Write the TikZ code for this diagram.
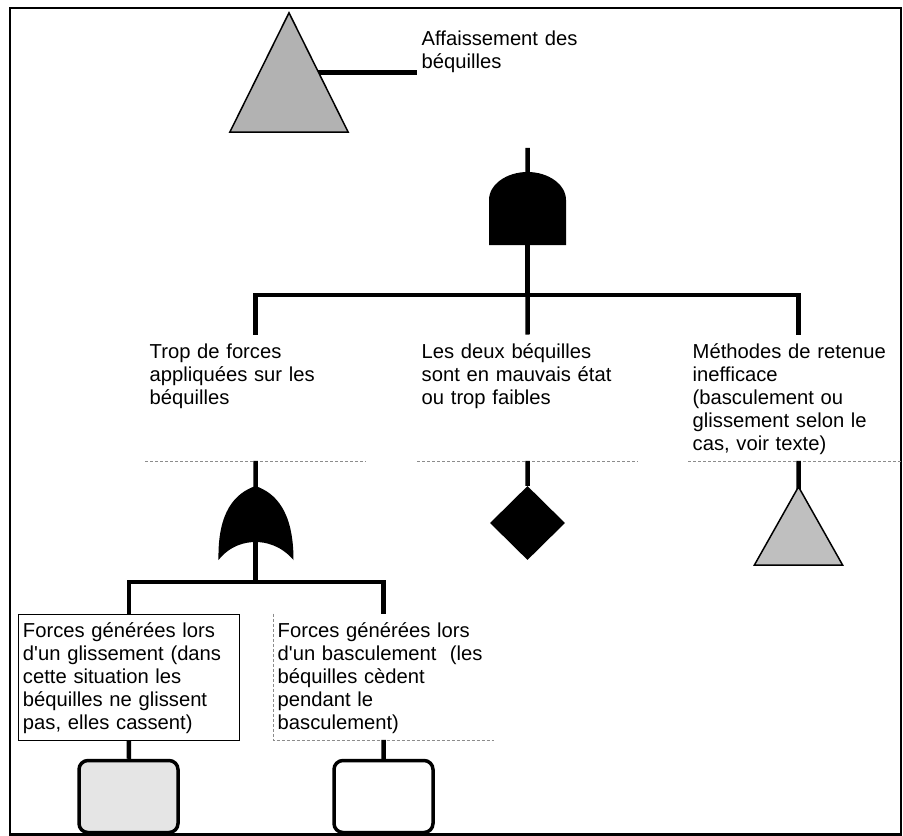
\documentclass[tikz,border=0pt]{standalone}
\usepackage{fontspec}
\setmainfont{Liberation Sans}
\usetikzlibrary{shapes.geometric}

\tikzset{
	wire/.style={line width=4.5pt},
	evtext/.style={anchor=north west, inner xsep=4.5pt, inner ysep=8.5pt, text width=212pt,
		text height=15pt, text depth=94pt, align=left, font=\fontsize{20.2}{23}\selectfont},
	gatebox/.style={inner sep=0pt, minimum width=#1},
	boxedge/.style={black!45, line width=0.8pt, densely dashed},
	basic/.style={draw, line width=3.5pt, rounded corners=9pt, minimum width=99pt, minimum height=72pt},
	transfer/.style={fill=gray!60, draw=black, line width=1.5pt},
}

\begin{document}
\begin{tikzpicture}[x=1pt,y=-1pt]
			\useasboundingbox (0,0) rectangle (903,836);
			\draw[line width=2.5pt] (10,8) rectangle (901,834.5);

			% event texts
			\node[evtext] (afs) at (417,21.5) {Affaissement des\\béquilles};
			\node[evtext] (trop) at (145,334.5) {Trop de forces\\appliquées sur les\\béquilles};
			\node[evtext] (deux) at (417,334.5) {Les deux béquilles\\sont en mauvais état\\ou trop faibles};
			\node[evtext] (meth) at (688,334.5) {Méthodes de retenue\\inefficace\\(basculement ou\\glissement selon le\\cas, voir texte)};
			\node[evtext, draw, line width=1pt] (glis) at (18,613.5) {Forces générées lors\\d\textquotesingle un glissement (dans\\cette situation les\\béquilles ne glissent\\pas, elles cassent)};
			\node[evtext] (basc) at (273,613.5) {Forces générées lors\\d\textquotesingle un basculement~ (les\\béquilles cèdent\\pendant le\\basculement)};

			% text box edges
			\draw[boxedge] (trop.south west) -- (trop.south east);
			\draw[boxedge] (deux.south west) -- (deux.south east);
			\draw[boxedge] (meth.south west) -- (meth.south east);
			\draw[boxedge] (basc.north west) -- (basc.south west) -- (basc.south east);

			% symbols
			\node[gatebox=118pt, minimum height=119pt] (tri1) at (289,72.5) {};
			\node[gatebox=77pt, minimum height=73pt] (andg) at (527.5,208.5) {};
			\node[gatebox=76pt, minimum height=74pt] (org) at (255.5,523) {};
			\node[diamond, fill, inner sep=0pt, minimum width=75pt, minimum height=74pt] (weak) at (527.5,523) {};
			\node[gatebox=88pt, minimum height=78pt] (tri2) at (798.5,526) {};
			\node[basic, fill=gray!20] (ev1) at (128.5,796.5) {};
			\node[basic] (ev2) at (383.5,796.5) {};

			% connectors
			\coordinate (split1) at (527.5,295);
			\coordinate (split2) at (255.5,582);
			\draw[wire] (tri1.center) -- (tri1.center -| afs.west);
			\draw[wire] (afs.south) -- (andg.center);
			\draw[wire] (andg.center) -- (split1);
			\draw[wire] (split1) -| (trop.north);
			\draw[wire] (split1) -| (meth.north);
			\draw[wire] (split1) -- (deux.north);
			\draw[wire] (trop.south) -- (org.center);
			\draw[wire] (deux.south) -- (weak);
			\draw[wire] (meth.south) -- (tri2.center);
			\draw[wire] (org.center) -- (split2);
			\draw[wire] (split2) -| (glis.north);
			\draw[wire] (split2) -| (basc.north);
			\draw[wire] (glis.south) -- (ev1);
			\draw[wire] (basc.south) -- (ev2);

			% gate shapes
			\filldraw[transfer] (tri1.north) -- (tri1.south west) -- (tri1.south east) -- cycle;
			\filldraw[transfer, fill=gray!50] (tri2.north) -- (tri2.south west) -- (tri2.south east) -- cycle;
			\fill[shift={(andg.center)}] (-38.5,36.5) -- (-38.5,-8.5) .. controls (-38.5,-24) and (-21,-36.5) .. (0,-36.5)
				.. controls (21,-36.5) and (38.5,-24) .. (38.5,-8.5) -- (38.5,36.5) -- cycle;
			\fill[shift={(org.center)}] (0,-37) .. controls (-20,-30) and (-38,-12) .. (-37,37)
				.. controls (-25,22) and (-10,19) .. (0,19) .. controls (10,19) and (25,22) .. (38,37)
				.. controls (38,-12) and (20,-30) .. (0,-37) -- cycle;
\end{tikzpicture}
\end{document}
